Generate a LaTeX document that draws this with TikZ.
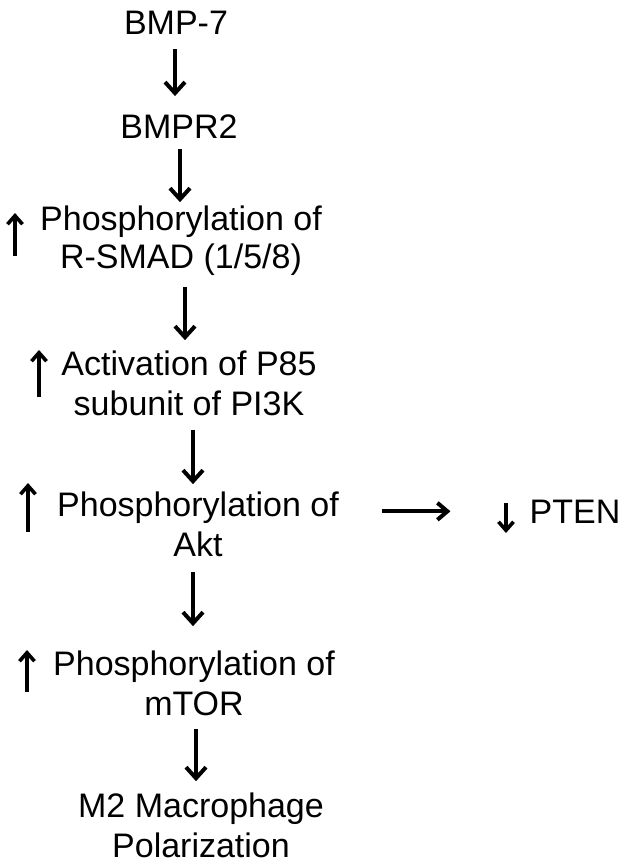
\documentclass[tikz,border=0pt]{standalone}
\usepackage{fontspec}
\setmainfont{Liberation Sans}
\usetikzlibrary{arrows.meta}
\begin{document}
\begin{tikzpicture}[x=1pt,y=-1pt,
  txt/.style={font=\fontsize{34}{40}\selectfont, inner sep=0pt, align=center, anchor=base},
  conn/.style={line width=4pt, -{Straight Barb[length=11pt,width=20pt]}},
  sideconn/.style={line width=4pt, -{Straight Barb[length=10pt,width=17pt]}},
  updown/.style={line width=3.6pt, -{Straight Barb[length=8.5pt,width=15pt]}}]
\useasboundingbox (0,0) rectangle (628,867);

\node[txt] (bmp7)  at (176,35)  {BMP-7};
\node[txt] (bmpr2) at (179,138) {BMPR2};
\node[txt] (rsmad) at (181,268) {Phosphorylation of\\[-2pt]R-SMAD (1/5/8)};
\node[txt] (p85)   at (189,415) {Activation of P85\\subunit of PI3K};
\node[txt] (akt)   at (198,556) {Phosphorylation of\\Akt};
\node[txt] (mtor)  at (194,715) {Phosphorylation of\\mTOR};
\node[txt] (m2)    at (201,857) {M2 Macrophage\\Polarization};
\node[txt] (pten)  at (575,523) {PTEN};

\draw[conn, shorten <=14pt, shorten >=18pt] ([xshift=-1pt]bmp7.south) -- ([xshift=-1pt]bmp7.south |- bmpr2.north);
\draw[conn, shorten <=11pt, shorten >=3pt] ([xshift=1pt]bmpr2.south) -- ([xshift=1pt]bmpr2.south |- rsmad.north);
\draw[conn, shorten <=12pt, shorten >=10pt] ([xshift=4pt]rsmad.south) -- ([xshift=4pt]rsmad.south |- p85.north);
\draw[conn, shorten <=14pt, shorten >=7pt] ([xshift=4pt]p85.south) -- ([xshift=4pt]p85.south |- akt.north);
\draw[conn, shorten <=16pt, shorten >=24pt] ([xshift=-5pt]akt.south) -- ([xshift=-5pt]akt.south |- mtor.north);
\draw[conn, shorten <=13pt, shorten >=11pt] ([xshift=2pt]mtor.south) -- ([xshift=2pt]mtor.south |- m2.north);
\draw[sideconn, shorten <=43pt, shorten >=79pt] (akt.east |- pten.west) -- (pten.west);

% up / down indicator arrows
\draw[updown] (15,256) -- (15,213);
\draw[updown] (39,397) -- (39,350);
\draw[updown] (28,532) -- (28,483);
\draw[updown] (27,692) -- (27,650);
\draw[updown] (506,503) -- (506,533);
\end{tikzpicture}
\end{document}
